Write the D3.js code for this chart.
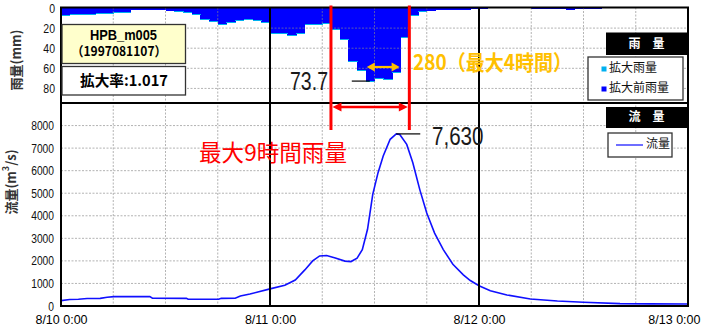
<!DOCTYPE html>
<html>
<head>
<meta charset="utf-8">
<script src="https://cdn.jsdelivr.net/npm/d3@7"></script>
<style>
  body { margin: 0; background: #fff; }
  svg { display: block; }
</style>
</head>
<body>
<svg id="chart" width="704" height="327"></svg>
<script>
// ---- data -------------------------------------------------------------
const startTime = new Date(1997, 7, 10, 0, 0);
const endTime = new Date(1997, 7, 13, 0, 0);
const stationName = "HPB_m005";
const eventId = "（1997081107）";
const enlargeRate = "1.017";

const rainTicks = [0, 20, 40, 60, 80];
const flowTicks = [0, 1000, 2000, 3000, 4000, 5000, 6000, 7000, 8000];

// hourly rainfall (mm), hour 0 = 8/10 0:00
const rainEnlarged = [
  7, 6.5, 6.5, 6, 5.5, 5, 4, 4, 2, 2, 2, 2,
  2.5, 3, 4.5, 6, 11.5, 13, 16, 14.5, 12, 11, 12.5, 14.5,
  25.5, 25.5, 27, 25, 16.5, 16.5, 15.5, 21, 31, 53.5, 63, 73.7,
  70.5, 71.5, 64.3, 29.5, 7, 3.5, 2.5, 1.5, 1.5, 1.5, 1.5, 1,
  1, 0, 0, 0, 0, 0, 1, 1, 1, 1, 1.5, 1,
  1, 1, 0, 0, 0, 0, 0, 0, 0, 0, 0, 0
];
const rainOriginal = [
  6.9, 6.4, 6.4, 5.9, 5.4, 4.9, 3.9, 3.9, 2.0, 2.0, 2.0, 2.0,
  2.5, 2.9, 4.4, 5.9, 11.3, 12.8, 15.7, 14.3, 11.8, 10.8, 12.3, 14.3,
  25.1, 25.1, 26.5, 24.6, 16.2, 16.2, 15.2, 20.6, 30.5, 52.6, 61.9, 72.5,
  69.3, 70.3, 63.2, 29.0, 6.9, 3.4, 2.5, 1.5, 1.5, 1.5, 1.5, 1.0,
  1.0, 0, 0, 0, 0, 0, 1.0, 1.0, 1.0, 1.0, 1.5, 1.0,
  1.0, 1.0, 0, 0, 0, 0, 0, 0, 0, 0, 0, 0
];

// discharge (m3/s) at hours after 8/10 0:00
const flowHours = [
  0, 1, 2, 3, 4.5, 5.3, 6.1, 10.2, 10.5, 14.4, 14.6, 18.1, 18.4, 20, 20.6,
  21.7, 22.6, 24, 25.7, 26.9, 28, 28.9, 29.7, 30.5, 31.5, 32.6, 33.3, 34,
  34.6, 35.2, 35.8, 36.4, 37, 37.8, 38.5, 38.9, 39.7, 40.4, 41.2, 42, 42.9,
  43.9, 45, 46.2, 47, 48, 49.3, 51.2, 53.9, 57, 60, 64.2, 67.6, 72
];
const flowValues = [
  240, 290, 300, 330, 340, 390, 415, 415, 345, 340, 300, 300, 340, 345, 440,
  530, 620, 760, 920, 1150, 1600, 2000, 2220, 2240, 2130, 1990, 1970, 2120,
  2500, 3400, 4950, 5900, 6650, 7390, 7630, 7600, 7165, 6350, 5160, 4120, 3230,
  2500, 1850, 1380, 1130, 900, 680, 490, 310, 222, 165, 105, 95, 90
];

// rainfall windows (start hour, end hour)
const window9h = [31, 40];
const window4h = [35, 39];

// ---- setup ------------------------------------------------------------
const NUM = "'Liberation Sans','Arial',sans-serif";
const CJK = "'Noto Sans CJK JP','Noto Sans',sans-serif";
const hourToDate = h => new Date(startTime.getTime() + h * 3600e3);

// squeeze text horizontally to a narrow face
function narrow(sel, f) {
  sel.each(function () {
    const w = this.getComputedTextLength();
    d3.select(this).attr("textLength", w * f).attr("lengthAdjust", "spacingAndGlyphs");
  });
}

const svg = d3.select("#chart");
const L = 61, R = 688, T = 7.5, MID = 103, B = 306;

const x = d3.scaleTime().domain([startTime, endTime]).range([L, R]);
const yRain = d3.scaleLinear().domain([0, 94.5]).range([T + 0.5, MID]);
const yFlow = d3.scaleLinear().domain([0, 9000]).range([B, MID]);

svg.append("rect").attr("width", 704).attr("height", 327).attr("fill", "#fff");

// ---- rainfall bars ----------------------------------------------------
const rainRows = rainEnlarged.map((v, i) => ({ h: i, enl: v, org: rainOriginal[i] }));
const gRain = svg.append("g").attr("shape-rendering", "crispEdges");
gRain.selectAll("rect.org").data(rainRows.filter(d => d.org > 0)).join("rect")
  .attr("class", "org")
  .attr("x", d => x(hourToDate(d.h)))
  .attr("width", d => x(hourToDate(d.h + 1)) - x(hourToDate(d.h)) + 0.6)
  .attr("y", yRain(0))
  .attr("height", d => yRain(d.org) - yRain(0))
  .attr("fill", "#0000ff");
gRain.selectAll("rect.enl").data(rainRows.filter(d => d.enl > d.org)).join("rect")
  .attr("class", "enl")
  .attr("x", d => x(hourToDate(d.h)))
  .attr("width", d => x(hourToDate(d.h + 1)) - x(hourToDate(d.h)) + 0.6)
  .attr("y", d => yRain(d.org))
  .attr("height", d => Math.max(1, yRain(d.enl) - yRain(d.org)))
  .attr("fill", "#00b0f0");

// ---- grid ---------------------------------------------------------------
const grid = svg.append("g").attr("stroke", "#8a8a8a").attr("stroke-width", 0.8)
  .attr("stroke-dasharray", "2,1.5").attr("opacity", 0.8);
const sixHours = x.ticks(d3.timeHour.every(6));
grid.selectAll("line.v").data(sixHours).join("line")
  .attr("x1", d => x(d)).attr("x2", d => x(d)).attr("y1", T).attr("y2", B);
grid.selectAll("line.hr").data(rainTicks.slice(1)).join("line")
  .attr("x1", L).attr("x2", R).attr("y1", d => yRain(d)).attr("y2", d => yRain(d));
grid.selectAll("line.hf").data(flowTicks.slice(1)).join("line")
  .attr("x1", L).attr("x2", R).attr("y1", d => yFlow(d)).attr("y2", d => yFlow(d));

// ---- discharge line ---------------------------------------------------
const line = d3.line().x(d => x(hourToDate(d[0]))).y(d => yFlow(d[1]));
svg.append("path")
  .datum(flowHours.map((h, i) => [h, flowValues[i]]))
  .attr("d", line).attr("fill", "none")
  .attr("stroke", "#1010ff").attr("stroke-width", 1.6);

// ---- frame ----------------------------------------------------------------
const frame = svg.append("g").attr("stroke", "#000").attr("fill", "none");
frame.append("rect").attr("x", L).attr("y", T).attr("width", R - L).attr("height", B - T)
  .attr("stroke-width", 2);
frame.append("line").attr("x1", L).attr("x2", R).attr("y1", MID).attr("y2", MID).attr("stroke-width", 2);
const dayTicks = x.ticks(d3.timeDay.every(1));
frame.selectAll("line.day").data(dayTicks.slice(1, -1)).join("line")
  .attr("x1", d => x(d)).attr("x2", d => x(d)).attr("y1", T).attr("y2", B).attr("stroke-width", 2);

// ---- axes ---------------------------------------------------------------
const fmt = d3.timeFormat("%-m/%-d %-H:%M");
const axX = svg.append("g").attr("transform", `translate(0,${B})`)
  .call(d3.axisBottom(x).tickValues(dayTicks).tickFormat(fmt).tickSize(0).tickPadding(9));
axX.select(".domain").remove();
axX.selectAll("text").attr("font-family", NUM).attr("font-size", 12.5).attr("fill", "#000")
  .attr("text-anchor", (d, i, n) => i === n.length - 1 ? "end" : "middle")
  .attr("dx", (d, i, n) => i === n.length - 1 ? 12 : 0);

const axR = svg.append("g").attr("transform", `translate(${L - 6},0)`)
  .call(d3.axisLeft(yRain).tickValues(rainTicks).tickSize(0).tickPadding(0));
axR.select(".domain").remove();
axR.selectAll("text").attr("font-family", NUM).attr("font-size", 12.5).attr("fill", "#111")
  .call(narrow, 0.84);

const axF = svg.append("g").attr("transform", `translate(${L - 7},0)`)
  .call(d3.axisLeft(yFlow).tickValues(flowTicks).tickFormat(d3.format("d")).tickSize(0).tickPadding(0));
axF.select(".domain").remove();
axF.selectAll("text").attr("font-family", NUM).attr("font-size", 12.5).attr("fill", "#111")
  .call(narrow, 0.82);

svg.append("text").attr("transform", "translate(17,60) rotate(-90)")
  .attr("text-anchor", "middle").attr("dominant-baseline", "middle")
  .attr("font-family", CJK).attr("font-size", 13).attr("font-weight", "bold").attr("fill", "#333")
  .text("雨量(mm)");
const ft = svg.append("text").attr("transform", "translate(12,182) rotate(-90)")
  .attr("text-anchor", "middle").attr("dominant-baseline", "middle")
  .attr("font-family", CJK).attr("font-size", 13).attr("font-weight", "bold").attr("fill", "#333");
ft.append("tspan").text("流量(m");
ft.append("tspan").attr("dy", -5).attr("font-size", 9).text("3");
ft.append("tspan").attr("dy", 5).text("/s)");

// ---- info boxes -----------------------------------------------------------
svg.append("rect").attr("x", 62).attr("y", 24.5).attr("width", 123.5).attr("height", 39)
  .attr("fill", "#ffffcc").attr("stroke", "#333").attr("stroke-width", 1.3);
svg.append("text").attr("x", 123.5).attr("y", 39.5).attr("text-anchor", "middle")
  .attr("font-family", NUM).attr("font-weight", "bold").attr("font-size", 14.5)
  .attr("textLength", 67).attr("lengthAdjust", "spacingAndGlyphs").text(stationName);
svg.append("text").attr("x", 119).attr("y", 56).attr("text-anchor", "middle")
  .attr("font-family", CJK).attr("font-weight", "bold").attr("font-size", 13)
  .attr("textLength", 95).attr("lengthAdjust", "spacingAndGlyphs").text(eventId);
svg.append("rect").attr("x", 62).attr("y", 66.5).attr("width", 123.5).attr("height", 28.5)
  .attr("fill", "#fff").attr("stroke", "#333").attr("stroke-width", 1.3);
svg.append("text").attr("x", 124).attr("y", 86).attr("text-anchor", "middle")
  .attr("font-family", CJK).attr("font-weight", "bold").attr("font-size", 15)
  .attr("textLength", 88).attr("lengthAdjust", "spacingAndGlyphs").text("拡大率:" + enlargeRate);

// ---- annotations: maximum hourly rain -------------------------------------
const maxRain = d3.max(rainEnlarged);
const maxRainHour = rainEnlarged.indexOf(maxRain);
const xMaxRain = x(hourToDate(maxRainHour));
svg.append("line").attr("x1", xMaxRain - 14).attr("x2", xMaxRain + 4)
  .attr("y1", yRain(maxRain) - 1).attr("y2", yRain(maxRain) - 1)
  .attr("stroke", "#000").attr("stroke-width", 1.2);
svg.append("text").attr("x", 328).attr("y", 89.5).attr("text-anchor", "end")
  .attr("font-family", NUM).attr("font-size", 25).attr("fill", "#1a1a1a")
  .attr("textLength", 38).attr("lengthAdjust", "spacingAndGlyphs")
  .text(d3.format(".1f")(maxRain));

// 4-hour maximum
const sum4 = d3.sum(rainEnlarged.slice(window4h[0], window4h[1]));
const ox1 = x(hourToDate(window4h[0])) + 1, ox2 = x(hourToDate(window4h[1])) - 1, oy = 67;
const orange = "#ffc000";
svg.append("line").attr("x1", ox1 + 6).attr("x2", ox2 - 6).attr("y1", oy).attr("y2", oy)
  .attr("stroke", orange).attr("stroke-width", 2.2);
svg.append("path").attr("fill", orange)
  .attr("d", `M${ox1},${oy} l8,-4.5 v9 Z M${ox2},${oy} l-8,-4.5 v9 Z`);
svg.append("text").attr("x", 413).attr("y", 70).attr("font-family", CJK)
  .attr("font-weight", "bold").attr("font-size", 21).attr("fill", orange)
  .attr("textLength", 159).attr("lengthAdjust", "spacingAndGlyphs")
  .text(`${d3.format(".0f")(sum4)}（最大4時間）`);

// 9-hour maximum window
const red = "#ff0000";
const rx1 = x(hourToDate(window9h[0])), rx2 = x(hourToDate(window9h[1])), ry = 107;
const gRed = svg.append("g");
[rx1, rx2].forEach(xx => gRed.append("line").attr("x1", xx).attr("x2", xx)
  .attr("y1", 5.5).attr("y2", 130).attr("stroke", red).attr("stroke-width", 3));
gRed.append("line").attr("x1", rx1 + 6).attr("x2", rx2 - 6).attr("y1", ry).attr("y2", ry)
  .attr("stroke", red).attr("stroke-width", 2.5);
gRed.append("path").attr("fill", red)
  .attr("d", `M${rx1 + 1.5},${ry} l9,-4.5 v9 Z M${rx2 - 1.5},${ry} l-9,-4.5 v9 Z`);
svg.append("text").attr("x", 199).attr("y", 160.5).attr("font-family", CJK)
  .attr("font-size", 23).attr("fill", red)
  .attr("textLength", 148).attr("lengthAdjust", "spacingAndGlyphs")
  .text("最大9時間雨量");

// peak discharge
const peak = d3.max(flowValues);
const peakHour = flowHours[flowValues.indexOf(peak)];
const px = x(hourToDate(peakHour)), py = yFlow(peak);
svg.append("line").attr("x1", px).attr("x2", px + 24).attr("y1", py).attr("y2", py)
  .attr("stroke", "#000").attr("stroke-width", 1.2);
svg.append("text").attr("x", 432).attr("y", 145).attr("font-family", NUM)
  .attr("font-size", 25).attr("fill", "#1a1a1a")
  .attr("textLength", 51.5).attr("lengthAdjust", "spacingAndGlyphs")
  .text(d3.format(",")(peak));

// ---- legends ----------------------------------------------------------------
function header(y, h, label) {
  svg.append("rect").attr("x", 606).attr("y", y).attr("width", 81).attr("height", h).attr("fill", "#000");
  svg.append("text").attr("x", 646.5).attr("y", y + h / 2 + 0.5).attr("text-anchor", "middle")
    .attr("dominant-baseline", "middle").attr("font-family", CJK).attr("font-weight", "bold")
    .attr("font-size", 12).attr("fill", "#fff").attr("xml:space", "preserve").text(label);
}
header(32.5, 22.5, "雨　量");
svg.append("rect").attr("x", 588).attr("y", 57).attr("width", 95).attr("height", 43)
  .attr("fill", "#fff").attr("stroke", "#333").attr("stroke-width", 1.3);
const rainLegend = [["拡大雨量", "#00b0f0"], ["拡大前雨量", "#0000ff"]];
rainLegend.forEach(([name, c], i) => {
  const yy = 69 + i * 20;
  svg.append("rect").attr("x", 601.5).attr("y", yy - 2.5).attr("width", 5).attr("height", 5).attr("fill", c);
  svg.append("text").attr("x", 609).attr("y", yy).attr("dominant-baseline", "middle")
    .attr("font-family", CJK).attr("font-size", 12).attr("fill", "#111").text(name);
});

header(107, 21, "流　量");
svg.append("rect").attr("x", 608).attr("y", 133).attr("width", 64).attr("height", 24)
  .attr("fill", "#fff").attr("stroke", "#333").attr("stroke-width", 1.3);
svg.append("line").attr("x1", 616).attr("x2", 643).attr("y1", 145).attr("y2", 145)
  .attr("stroke", "#4a4aff").attr("stroke-width", 1.6);
svg.append("text").attr("x", 646).attr("y", 145).attr("dominant-baseline", "middle")
  .attr("font-family", CJK).attr("font-size", 12).attr("fill", "#111").text("流量");
</script>
</body>
</html>
